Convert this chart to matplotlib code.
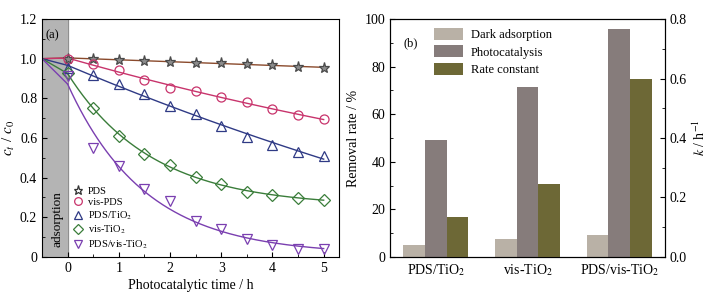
import numpy as np
import matplotlib
matplotlib.use("Agg")
import matplotlib.pyplot as plt
from matplotlib.ticker import MultipleLocator, FuncFormatter
from matplotlib.lines import Line2D
from matplotlib.patches import Patch

plt.rcParams['font.family'] = ['Liberation Serif', 'DejaVu Serif']
plt.rcParams['mathtext.fontset'] = 'stix'

# ---------------- data: panel (a) ----------------
t = [0, 0.5, 1, 1.5, 2, 2.5, 3, 3.5, 4, 4.5, 5]
t_start = -0.5
c_start = 1.0
pds = [1.0, 1.0, 0.995, 0.99, 0.985, 0.98, 0.977, 0.973, 0.968, 0.96, 0.952]
vis_pds = [0.998, 0.972, 0.943, 0.894, 0.852, 0.839, 0.805, 0.783, 0.745, 0.716, 0.694]
pds_tio2 = [0.951, 0.918, 0.871, 0.822, 0.761, 0.719, 0.661, 0.607, 0.565, 0.531, 0.511]
vis_tio2 = [0.926, 0.753, 0.612, 0.518, 0.464, 0.405, 0.367, 0.329, 0.313, 0.296, 0.287]
pds_vis_tio2 = [0.913, 0.548, 0.46, 0.341, 0.284, 0.182, 0.141, 0.091, 0.06, 0.042, 0.039]
series_names = ['PDS', 'vis-PDS', 'PDS/TiO$_2$', 'vis-TiO$_2$', 'PDS/vis-TiO$_2$']

# ---------------- data: panel (b) ----------------
categories = ['PDS/TiO$_2$', 'vis-TiO$_2$', 'PDS/vis-TiO$_2$']
dark_adsorption = [5.2, 7.7, 9.2]
photocatalysis = [49.1, 71.3, 95.9]
rate_constant = [0.133, 0.246, 0.600]

# ---------------- styles ----------------
styles = [
    dict(marker='*', line='#8a4a2c', mfc='#8c8c8c', mec='#4a4a4a', ms=8),
    dict(marker='o', line='#c8346c', mfc='none', mec='#c8346c', ms=6.5),
    dict(marker='^', line='#2f3a85', mfc='none', mec='#2f3a85', ms=7.5),
    dict(marker='D', line='#3a7d3a', mfc='none', mec='#3a7d3a', ms=6),
    dict(marker='v', line='#7a3fb0', mfc='none', mec='#7a3fb0', ms=7.5),
]


def fit_exp(x, y):
    x = np.asarray(x, float)
    y = np.asarray(y, float)
    best = None
    for k in np.linspace(0.005, 3.0, 3000):
        A = np.column_stack([np.exp(-k * x), np.ones_like(x)])
        coef, *_ = np.linalg.lstsq(A, y, rcond=None)
        r = np.sum((A @ coef - y) ** 2)
        if best is None or r < best[0]:
            best = (r, k, coef)
    _, k, (a, b) = best
    return lambda xx: a * np.exp(-k * np.asarray(xx)) + b


fig = plt.figure(figsize=(7.13, 2.97), dpi=100)
ax1 = fig.add_axes([0.0589, 0.1347, 0.4166, 0.8013])
ax2 = fig.add_axes([0.547, 0.1347, 0.3857, 0.8013])

# ---------------- panel (a) ----------------
ax1.axvspan(t_start, 0, color='#b4b4b4', zorder=0)
ax1.axvline(0, color='#888888', lw=0.6, zorder=0.5)
all_series = [pds, vis_pds, pds_tio2, vis_tio2, pds_vis_tio2]
handles = []
tt = np.linspace(0, max(t), 300)
for data, st, name in zip(all_series, styles, series_names):
    f = fit_exp(t, data)
    ax1.plot([t_start, 0], [c_start, f(0)], color=st['line'], lw=1.0, zorder=2)
    ax1.plot(tt, f(tt), color=st['line'], lw=1.0, zorder=2)
    ax1.plot(t, data, linestyle='none', marker=st['marker'], ms=st['ms'],
             mfc=st['mfc'], mec=st['mec'], mew=0.9, zorder=3)
    handles.append(Line2D([], [], linestyle='none', marker=st['marker'], ms=st['ms'] * 0.85,
                          mfc='none', mec=st['mec'] if st['marker'] != '*' else '#333333', mew=0.9,
                          label=name))

ax1.set_xlim(-0.5, 5.3)
ax1.set_ylim(0, 1.2)
ax1.xaxis.set_minor_locator(MultipleLocator(0.5))
ax1.yaxis.set_major_locator(MultipleLocator(0.2))
ax1.yaxis.set_minor_locator(MultipleLocator(0.1))
ax1.set_xticks([0, 1, 2, 3, 4, 5])
ax1.yaxis.set_major_formatter(FuncFormatter(lambda v, p: '0' if abs(v) < 1e-9 else f'{v:.1f}'))
ax1.tick_params(which='both', direction='in', labelsize=10)
ax1.tick_params(which='major', length=3.5)
ax1.tick_params(which='minor', length=2)
ax1.set_xlabel('Photocatalytic time / h', fontsize=10, labelpad=3)
ax1.set_ylabel('$c_t$ / $c_0$', fontsize=11, labelpad=2)
ax1.text(-0.43, 1.12, '(a)', fontsize=9, va='center', ha='left')
ax1.text(-0.2, 0.19, 'adsorption', rotation=90, fontsize=9.5, ha='center', va='center')
leg = ax1.legend(handles=handles, loc='lower left', bbox_to_anchor=(0.08, -0.005),
                 frameon=False, fontsize=7.5, handlelength=1.0, handletextpad=0.4,
                 labelspacing=0.2, borderaxespad=0.3)
for s in ax1.spines.values():
    s.set_linewidth(0.8)

# ---------------- panel (b) ----------------
x = np.arange(len(categories))
w = 0.237
c_dark = '#b9b1a6'
c_photo = '#867c7b'
c_rate = '#6d6836'
ax2.bar(x - w, dark_adsorption, w, color=c_dark, zorder=2)
ax2.bar(x, photocatalysis, w, color=c_photo, zorder=2)
ax3 = ax2.twinx()
ax3.bar(x + w, rate_constant, w, color=c_rate, zorder=2)
ax2.set_xlim(-0.5, 2.5)
ax2.set_ylim(0, 100)
ax3.set_ylim(0, 0.8)
ax2.set_xticks(x)
ax2.set_xticklabels(categories)
ax2.yaxis.set_major_locator(MultipleLocator(20))
ax2.yaxis.set_minor_locator(MultipleLocator(10))
ax3.yaxis.set_major_locator(MultipleLocator(0.2))
ax3.yaxis.set_minor_locator(MultipleLocator(0.1))
ax3.yaxis.set_major_formatter(FuncFormatter(lambda v, p: f'{v:.1f}'))
for a in (ax2, ax3):
    a.tick_params(which='both', direction='in', labelsize=10)
    a.tick_params(which='major', length=3.5)
    a.tick_params(which='minor', length=2)
ax2.tick_params(axis='x', length=0, pad=4)
ax2.set_ylabel('Removal rate / %', fontsize=10, labelpad=3)
ax3.set_ylabel('$k$ / h$^{-1}$', fontsize=10, labelpad=3)
ax2.text(0.05, 0.9, '(b)', transform=ax2.transAxes, fontsize=9, va='center', ha='left')
leg2 = ax2.legend(handles=[Patch(facecolor=c_dark, edgecolor='none', label='Dark adsorption'),
                           Patch(facecolor=c_photo, edgecolor='none', label='Photocatalysis'),
                           Patch(facecolor=c_rate, edgecolor='none', label='Rate constant')],
                  loc='upper left', bbox_to_anchor=(0.125, 1.005), frameon=False, fontsize=9,
                  handlelength=2.3, handleheight=1.1, handletextpad=0.6, labelspacing=0.35,
                  borderaxespad=0.4)
for a in (ax2, ax3):
    for s in a.spines.values():
        s.set_linewidth(0.8)

fig.savefig('out.png', dpi=100)
